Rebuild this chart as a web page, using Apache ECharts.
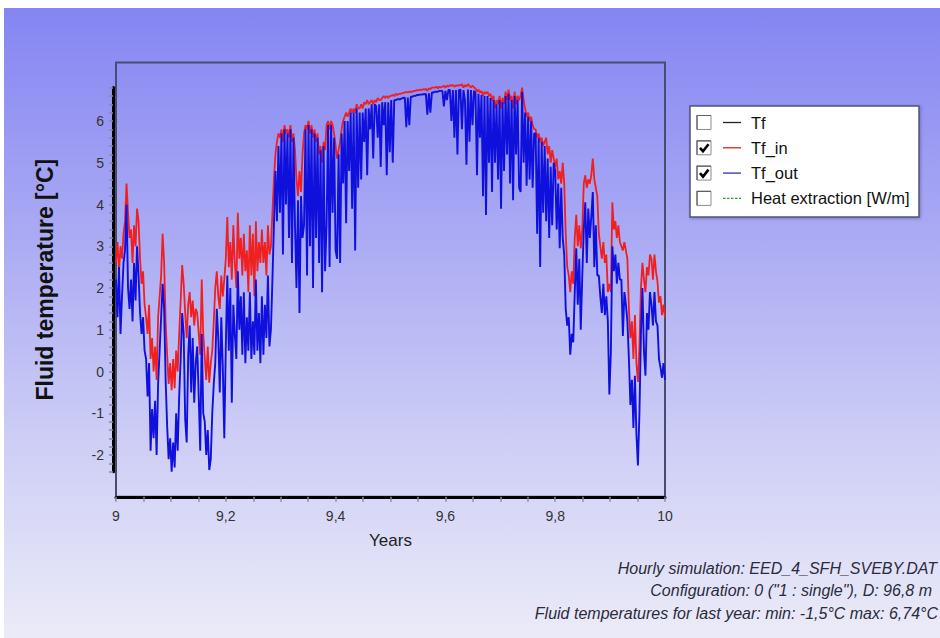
<!DOCTYPE html>
<html>
<head>
<meta charset="utf-8">
<title>Fluid temperature</title>
<script src="https://cdn.jsdelivr.net/npm/echarts@6.0.0/dist/echarts.min.js"></script>
<style>
  html, body { margin: 0; padding: 0; background: #ffffff; }
  #wrap { position: relative; width: 940px; height: 638px; overflow: hidden; background: #ffffff; }
  #bg { position: absolute; left: 4px; top: 8px; right: 0; bottom: 0;
        background: linear-gradient(to bottom, #8585f3 0%, #a9a9f4 35%, #cfcff6 70%, #ebebf8 100%); }
  #chart { position: absolute; left: 0; top: 0; width: 940px; height: 638px; }
</style>
</head>
<body>
<div id="wrap">
  <div id="bg"></div>
  <div id="chart"></div>
</div>
<script>
// Simulated period shown on the time axis (years)
const yearStart = 9;
const yearEnd = 10;

// Fluid temperature entering the borehole, one reading per day [°C]
const tfIn = [
  2.6, 3.1, 2.4, 3.0, 2.7, 3.3,
  3.6, 4.5, 3.8, 3.2,
  3.4, 2.6, 3.5, 3.0, 3.9, 3.6,
  2.7, 2.1, 2.4, 1.6, 1.3,
  0.9, 1.6, 0.3, 0.8, 0.0, 0.6, -0.2, 1.3,
  1.8, 2.3, 3.3, 2.6, 1.2,
  0.4, -0.3, 0.2, -0.45, 0.3, -0.4, 0.5, 0.0, 0.9,
  1.7, 2.55, 2.1, 1.4, 0.8,
  1.6, 1.9, 1.3, 1.7, 1.1, 1.5,
  1.4, 0.9, 0.4, 2.2, 0.9,
  0.35, -0.2, 0.6, -0.27, 0.2, 0.5, 1.2,
  2.0, 2.4, 1.8, 1.5, 2.3, 1.8, 2.2,
  2.7, 3.7, 2.5, 3.1, 2.2, 3.5, 2.6, 2.0,
  3.8, 2.7, 3.2, 2.3, 3.3, 2.4, 2.9, 1.9, 3.5,
  2.3, 3.3, 1.8, 3.6, 2.4, 3.1, 2.6,
  3.4, 2.6, 3.1, 2.3, 3.5, 2.8, 3.0,
  3.8, 4.6, 5.2, 5.5, 5.7,
  5.6, 5.8, 5.5, 5.9, 5.7, 5.8, 5.6, 5.9, 5.5, 5.7, 5.3,
  4.6, 4.2, 4.8, 4.3, 5.2,
  5.7, 5.9, 5.8, 6.0, 5.7, 5.9, 5.6, 5.8, 5.5, 5.7,
  5.2, 5.4, 5.0, 5.5, 5.3,
  5.9, 6.0, 5.8, 6.0, 5.9, 5.7, 5.4,
  5.1, 5.3, 5.5, 5.8,
  6.0, 6.1, 6.2, 6.1, 6.2, 6.3, 6.2, 6.3, 6.2, 6.4, 6.3,
  6.3, 6.4, 6.3, 6.45, 6.4, 6.5, 6.4, 6.45, 6.5, 6.4, 6.5, 6.45, 6.55, 6.5, 6.5, 6.55, 6.6,
  6.55, 6.6, 6.55, 6.6, 6.6, 6.62, 6.6, 6.65, 6.62, 6.65, 6.65, 6.66,
  6.67, 6.68, 6.7, 6.68, 6.7, 6.7,
  6.7, 6.72, 6.72, 6.74, 6.73, 6.75, 6.74, 6.76, 6.75, 6.77,
  6.72, 6.78, 6.76, 6.8,
  6.8, 6.8, 6.82, 6.78, 6.82, 6.8, 6.82,
  6.84, 6.8, 6.85, 6.82, 6.86, 6.84, 6.86, 6.82, 6.85, 6.84, 6.86,
  6.85, 6.88, 6.8, 6.86, 6.82, 6.88, 6.84, 6.8, 6.85, 6.8,
  6.78, 6.7, 6.75, 6.68, 6.72, 6.6, 6.7, 6.65, 6.7, 6.6,
  6.65, 6.5, 6.6, 6.3, 6.5, 6.4, 6.6, 6.3, 6.55, 6.4, 6.7, 6.5,
  6.75, 6.5, 6.6, 6.3, 6.7, 6.4, 6.6, 6.5,
  6.6, 6.8, 6.5, 6.3, 6.1,
  6.2, 6.0, 6.1, 5.9, 5.8,
  5.8, 5.6, 5.7, 5.5, 5.6, 5.4,
  5.5, 5.6, 5.2, 5.4, 5.0, 5.3, 5.1,
  4.9, 5.1, 4.6, 4.8, 4.5, 5.0,
  4.5, 3.3, 2.5, 2.3,
  1.9, 2.4, 2.1,
  3.2, 3.75, 3.0, 3.5, 2.95, 3.4,
  4.5, 4.7, 4.4, 4.6, 4.5, 4.7, 5.1, 4.6, 4.4, 4.2,
  3.3, 3.0, 2.7, 3.1, 2.6, 2.8,
  1.9, 2.1, 1.9,
  4.05, 3.4, 3.6, 3.2, 3.5, 3.1,
  3.0, 2.9, 3.1, 2.9, 2.7,
  1.5, 0.8, 1.2, 0.3,
  1.35, 0.2, -0.25, 0.6, 2.0,
  2.6, 2.2, 1.9, 2.5, 2.3, 2.8,
  2.7, 2.2, 2.8, 2.4, 2.15,
  1.65, 1.8, 1.35, 1.6, 1.3
];

// Fluid temperature leaving the borehole, one reading per day [°C]
const tfOut = [
  2.2, 1.3, 2.5, 0.9, 1.8, 2.6,
  2.9, 4.0, 2.0, 1.5,
  2.2, 1.2, 2.6, 1.7, 3.0, 2.3,
  1.4, 0.9, 1.3, 0.5, 0.3,
  -0.6, 0.2, -1.9, -0.9, -1.6, -0.7, -2.0, -0.3,
  0.5, 1.3, 2.1, 1.5, -0.2,
  -1.3, -2.1, -1.6, -2.4, -1.7, -2.3, -1.0, -1.9, -0.6,
  0.3, 1.4, 0.9, -1.15, -1.7,
  0.4, 1.1, -0.5, 0.8, -0.75, 0.2,
  0.6, -0.6, -1.9, 0.9, -1.0,
  -1.2, -2.0, -1.4, -2.36, -2.1, -1.0, -0.3,
  0.2, 1.5, 0.8, -0.5, 1.3, 0.1, -1.6,
  0.6, 2.3, 0.5, 2.0, -0.75, 1.6, 0.9, 0.3,
  2.4, 1.0, 1.8, 0.4, 1.9, 0.2, 1.3, 0.5, 1.9,
  0.3, 1.2, 0.4, 2.2, 0.5, 1.4, 0.2,
  1.8, 0.4, 1.6, 0.8, 2.3, 0.6, 1.0,
  2.2, 3.5, 4.8, 3.6, 5.4,
  3.8, 5.7, 2.8, 5.8, 4.0, 5.7, 3.2, 5.8, 2.6, 5.6, 3.5,
  2.0, 4.1, 1.4, 4.2, 3.2,
  3.5, 5.8, 2.3, 5.9, 3.0, 5.8, 2.0, 5.7, 3.2, 5.6,
  2.6, 5.3, 1.9, 5.4, 2.4,
  3.5, 5.9, 2.5, 5.9, 3.8, 5.6, 2.9,
  2.7, 5.2, 2.6, 5.7,
  4.5, 6.0, 3.55, 6.0, 4.8, 6.2, 3.9, 6.2, 2.9, 6.3, 4.4,
  6.2, 4.6, 6.2, 5.5, 6.3, 4.7, 6.3, 5.8, 6.4, 5.1, 6.4, 6.35, 5.6, 6.4, 4.9, 6.45, 5.9,
  6.45, 4.7, 6.45, 5.25, 6.5, 5.0, 6.5, 6.5, 6.52, 6.52, 6.52, 6.54,
  6.55, 6.56, 5.85, 6.56, 5.9, 6.58,
  6.58, 6.6, 6.6, 6.62, 6.62, 6.63, 6.63, 6.64, 6.64, 6.65,
  6.15, 6.66, 6.2, 6.68,
  6.68, 6.7, 6.7, 6.7, 6.72, 6.72, 6.72,
  6.35, 6.72, 6.5, 6.74, 6.74, 6.0, 6.74, 5.6, 6.74, 5.2, 6.74,
  6.75, 5.8, 6.74, 6.5, 4.95, 6.75, 5.5, 6.74, 5.9, 6.72,
  6.68, 4.7, 6.65, 5.6, 6.62, 4.2, 6.6, 3.75, 6.6, 5.0,
  6.55, 4.3, 6.5, 5.0, 6.4, 4.6, 6.5, 3.9, 6.45, 4.8, 6.6, 5.2,
  6.65, 4.5, 6.5, 4.1, 6.6, 5.2, 6.5, 4.4,
  4.3, 6.7, 5.0, 6.2, 4.45,
  6.1, 4.6, 6.0, 4.4, 5.7,
  5.7, 3.3, 5.6, 2.5, 5.5, 3.8,
  5.4, 3.6, 5.1, 3.2, 4.9, 3.5, 5.0,
  4.8, 3.4, 4.5, 2.95, 4.4, 3.2,
  2.8, 1.5, 1.1, 1.3,
  0.4, 0.9, 0.7,
  1.9, 2.95, 1.6, 2.7, 1.0, 2.3,
  3.4, 4.05, 2.6, 3.9, 3.2, 3.7, 4.3, 2.5, 3.5, 2.3,
  2.3, 1.8, 1.4, 2.1, 1.35, 1.8,
  1.2, -0.55, 0.45,
  3.0, 2.4, 2.8, 2.1, 2.6, 2.2,
  2.2, 0.85, 1.9, 1.6, 1.2,
  0.3, -0.8, -0.2, -1.35,
  -0.1, -1.5, -2.25, -1.0, 0.9,
  2.0, 0.5, -0.1, 1.4, 1.0, 1.9,
  1.6, 1.1, 1.9, 1.2, 1.1,
  0.3, 0.1, -0.15, 0.2, -0.2
];

// Legend entries and whether each curve is switched on
const legendNames = ['Tf', 'Tf_in', 'Tf_out', 'Heat extraction [W/m]'];
const legendChecked = [false, true, true, false];
const legendColors = ['#222222', '#e02020', '#3030a0', '#2c9a2c'];

// Run information printed under the chart
const infoLines = [
  'Hourly simulation: EED_4_SFH_SVEBY.DAT',
  'Configuration: 0 ("1 : single"), D: 96,8 m',
  'Fluid temperatures for last year: min: -1,5°C max: 6,74°C'
];
const infoRight = [937, 932, 938];

const FONT = '"Liberation Sans", Arial, sans-serif';

function toSeries(values) {
  const step = (yearEnd - yearStart) / (values.length - 1);
  return values.map((v, i) => [yearStart + i * step, v]);
}

function commaNumber(v) {
  const r = Math.round(v * 10) / 10;
  return Number.isInteger(r) ? String(r) : r.toFixed(1).replace('.', ',');
}

// Legend panel drawn as a group of graphic elements
function legendGraphic() {
  const left = 690, top = 106, width = 229, height = 111;
  const children = [{
    type: 'rect',
    shape: { x: left, y: top, width: width, height: height },
    style: { fill: '#ffffff', stroke: '#4f5678', lineWidth: 1.5,
             shadowBlur: 3, shadowColor: 'rgba(40,40,90,0.35)', shadowOffsetX: 1, shadowOffsetY: 1 }
  }];
  legendNames.forEach((name, i) => {
    const cy = top + 16.5 + i * 25.3;
    const bx = left + 7, by = cy - 7;
    children.push({
      type: 'rect',
      shape: { x: bx, y: by, width: 14, height: 14 },
      style: { fill: '#ffffff', stroke: '#8c8c8c', lineWidth: 1 }
    });
    children.push({
      type: 'polyline',
      shape: { points: [[bx, by + 14], [bx, by], [bx + 14, by]] },
      style: { fill: null, stroke: '#606060', lineWidth: 1.2 }
    });
    if (legendChecked[i]) {
      children.push({
        type: 'polyline',
        shape: { points: [[bx + 3, by + 7], [bx + 6, by + 10.5], [bx + 11.5, by + 3.5]] },
        style: { fill: null, stroke: '#000000', lineWidth: 2.6 }
      });
    }
    children.push({
      type: 'line',
      shape: { x1: left + 33, y1: cy, x2: left + 51, y2: cy },
      style: { stroke: legendColors[i], lineWidth: 1.3,
               lineDash: i === 3 ? [2.5, 1.5] : null }
    });
    children.push({
      type: 'text',
      style: { x: left + 61, y: cy, text: name, fill: '#111111',
               font: '16.5px ' + FONT, textVerticalAlign: 'middle', verticalAlign: 'middle' }
    });
  });
  return { type: 'group', children: children };
}

function infoGraphic() {
  return {
    type: 'group',
    children: infoLines.map((line, i) => ({
      type: 'text',
      style: { x: infoRight[i], y: 568 + i * 22.5, text: line, fill: '#2b2b3b',
               font: 'italic 16px ' + FONT, align: 'right', textAlign: 'right',
               verticalAlign: 'middle', textVerticalAlign: 'middle' }
    }))
  };
}

const chart = echarts.init(document.getElementById('chart'), null, { renderer: 'svg', width: 940, height: 638 });

const tickStyle = { color: '#8a8a9a', width: 1.5 };

chart.setOption({
  animation: false,
  backgroundColor: 'transparent',
  textStyle: { fontFamily: FONT },
  grid: [
    { left: 116, right: 275, top: 62.5, bottom: 141.25, show: true,
      borderColor: '#474c70', borderWidth: 2, backgroundColor: 'transparent' },
    { left: 116, right: 275, top: 87.6, height: 384.1 }
  ],
  xAxis: [
    {
      gridIndex: 0, type: 'value', min: yearStart, max: yearEnd, interval: 0.2,
      axisLine: { show: true, onZero: false, lineStyle: { color: '#000000', width: 3 } },
      axisTick: { show: true, length: 5, lineStyle: tickStyle },
      minorTick: { show: true, splitNumber: 4, length: 5, lineStyle: tickStyle },
      splitLine: { show: false },
      axisLabel: { formatter: commaNumber, color: '#333333', fontSize: 14, margin: 12, fontFamily: FONT },
      name: 'Years', nameLocation: 'middle', nameGap: 35,
      nameTextStyle: { fontSize: 17, color: '#222222', fontFamily: FONT }
    },
    { gridIndex: 1, type: 'value', min: yearStart, max: yearEnd, show: false }
  ],
  yAxis: [
    { gridIndex: 0, type: 'value', min: -3, max: 7.4, show: false, splitLine: { show: false } },
    {
      gridIndex: 1, type: 'value', min: -2.4, max: 6.8, interval: 0.2, offset: 3,
      axisLine: { show: true, onZero: false, lineStyle: { color: '#000000', width: 3 } },
      axisTick: { show: true, length: 4, lineStyle: tickStyle },
      splitLine: { show: false },
      axisLabel: {
        color: '#333333', fontSize: 14, margin: 9, fontFamily: FONT,
        formatter: v => Math.abs(v - Math.round(v)) < 1e-6 ? String(Math.round(v)) : ''
      },
      name: 'Fluid temperature [°C]', nameLocation: 'middle', nameGap: 57, nameRotate: 90,
      nameTextStyle: { fontSize: 23, fontWeight: 'bold', color: '#111111', fontFamily: FONT }
    }
  ],
  series: [
    {
      name: 'Tf_in', type: 'line', xAxisIndex: 0, yAxisIndex: 0,
      data: toSeries(tfIn), showSymbol: false, symbol: 'none', sampling: null,
      lineStyle: { color: '#f02020', width: 1.8 }, z: 3
    },
    {
      name: 'Tf_out', type: 'line', xAxisIndex: 0, yAxisIndex: 0,
      data: toSeries(tfOut), showSymbol: false, symbol: 'none', sampling: null,
      lineStyle: { color: '#1010dd', width: 1.9 }, z: 4
    }
  ],
  graphic: [legendGraphic(), infoGraphic()]
});
</script>
</body>
</html>
